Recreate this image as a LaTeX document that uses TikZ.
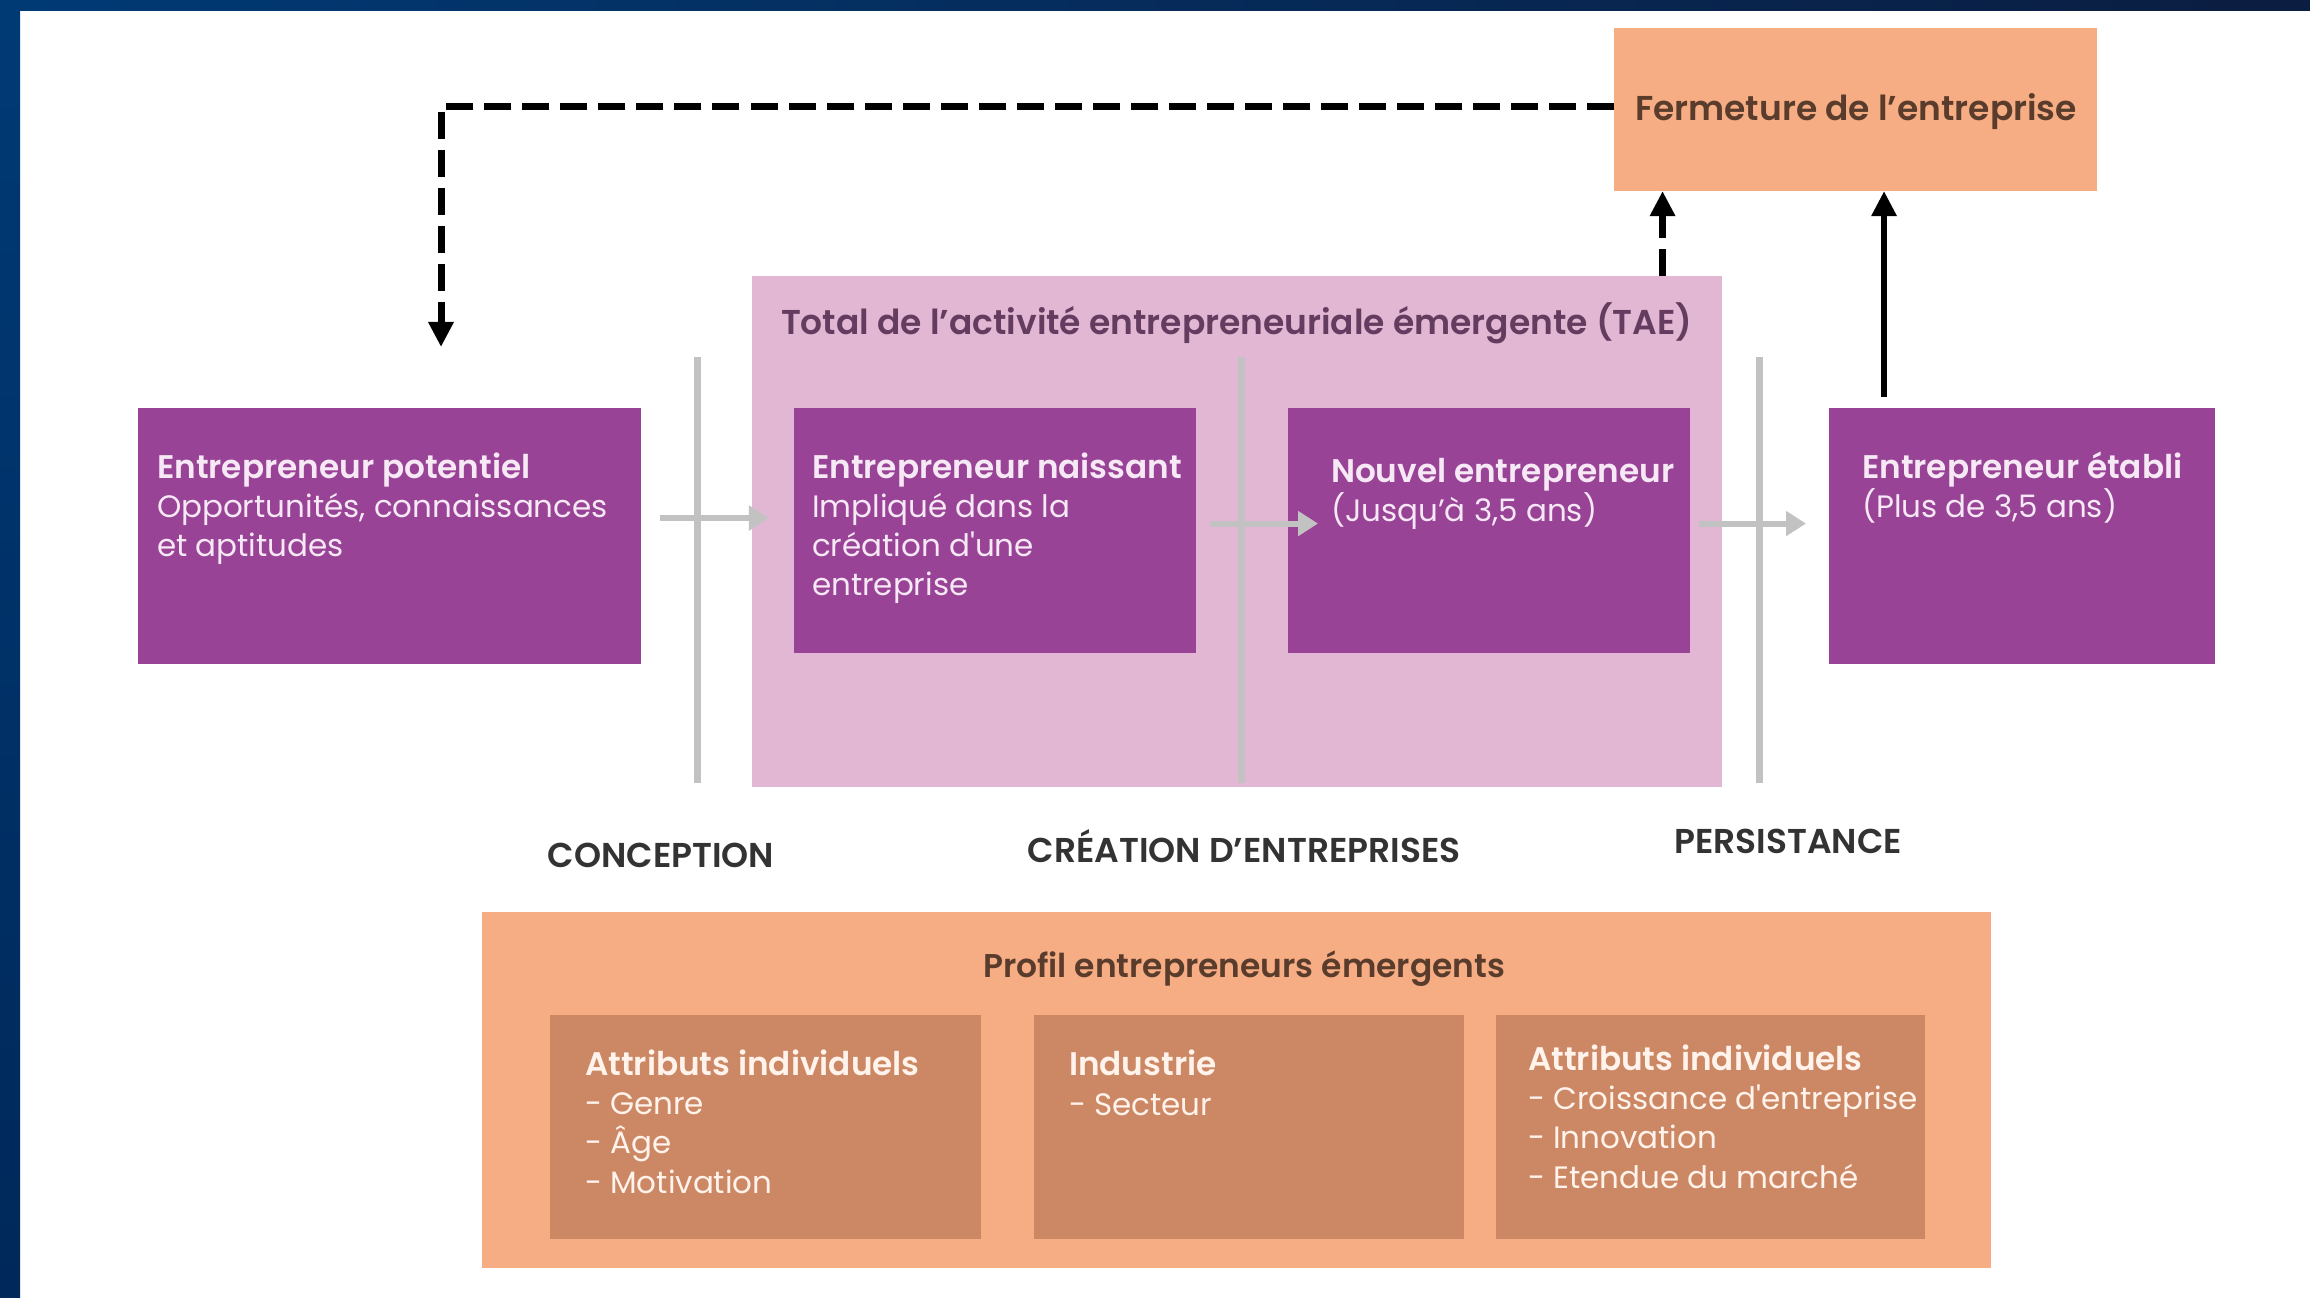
\documentclass[tikz,border=0pt]{standalone}
\usepackage{fontspec}
\setmainfont{Poppins}[BoldFont={Poppins SemiBold}]
\usetikzlibrary{arrows.meta,calc}
\definecolor{navyA}{HTML}{003A75}
\definecolor{navyB}{HTML}{00285A}
\definecolor{navyC}{HTML}{0B1D40}
\definecolor{purp}{HTML}{984396}
\definecolor{pinkbg}{HTML}{E2B7D4}
\definecolor{orng}{HTML}{F7AD83}
\definecolor{brwn}{HTML}{CC8864}
\definecolor{gline}{HTML}{C2C2C2}
\definecolor{ptext}{HTML}{F7E8F5}
\definecolor{otext}{HTML}{FFF3EC}
\definecolor{darkbrown}{HTML}{5A3C2D}
\definecolor{darkpurp}{HTML}{643C5F}
\definecolor{lab}{HTML}{333333}
\newcommand{\hd}[1]{{\fontsize{9.3}{11.1}\selectfont\bfseries #1}}
\begin{document}
\begin{tikzpicture}[x=0.01cm,y=-0.01cm,
  box/.style={anchor=north west, inner sep=0pt, outer sep=0pt, draw=none},
  pbox/.style={box, fill=purp},
  txt/.style={anchor=base west, inner sep=0pt, outer sep=0pt, align=left,
    font=\fontsize{8.8}{11.1}\selectfont},
  ttl/.style={inner sep=0pt, outer sep=0pt, font=\fontsize{9.8}{11.1}\selectfont\bfseries},
  lbl/.style={anchor=base, inner sep=0pt, outer sep=0pt, text=lab,
    font=\fontsize{9.8}{11}\selectfont\bfseries},
  vline/.style={draw=gline, line width=0.07cm},
  grayarrow/.style={draw=gline, line width=0.06cm, -{Triangle[length=0.2cm,width=0.24cm]}},
  dasharrow/.style={draw=black, line width=0.07cm, dash pattern=on 0.27cm off 0.11cm,
    -{Triangle[length=0.25cm,width=0.24cm]}},
  solidarrow/.style={draw=black, line width=0.06cm, -{Triangle[length=0.25cm,width=0.24cm]}}
]
\useasboundingbox (0,0) rectangle (2310,1298);
\fill[white] (0,0) rectangle (2310,1298);
\shade[left color=navyA, right color=navyC] (0,0) rectangle (2310,11);
\shade[top color=navyA, bottom color=navyB] (0,0) rectangle (20,1298);

% TAE background
\node[box, fill=pinkbg, minimum width=9.69cm, minimum height=5.11cm] (tae) at (752,276) {};
\node[ttl, anchor=base west, text=darkpurp] (taet) at (781,335)
  {Total de l’activité entrepreneuriale émergente (TAE)};

% vertical separators
\coordinate (v1t) at (697,357); \coordinate (v1b) at (697,783);
\coordinate (v2t) at (1241,357); \coordinate (v2b) at (1241,783);
\coordinate (v3t) at (1759,357); \coordinate (v3b) at (1759,783);
\draw[vline] (v1t) -- (v1b);
\draw[vline] (v2t) -- (v2b);
\draw[vline] (v3t) -- (v3b);

% purple boxes
\node[pbox, minimum width=5.03cm, minimum height=2.56cm] (pot) at (138,408) {};
\node[pbox, minimum width=4.02cm, minimum height=2.45cm] (nais) at (794,408) {};
\node[pbox, minimum width=4.02cm, minimum height=2.45cm] (nouv) at (1288,408) {};
\node[pbox, minimum width=3.86cm, minimum height=2.56cm] (etab) at (1829,408) {};

% text nodes: anchor is the baseline of the last line
\node[txt, text=ptext] (pott) at (157,557)
  {\hd{Entrepreneur potentiel}\\Opportunités, connaissances\\et aptitudes};
\node[txt, text=ptext] (naist) at (812,596)
  {\hd{Entrepreneur naissant}\\Impliqué dans la\\création d\textquotesingle une\\entreprise};
\node[txt, text=ptext] (nouvt) at (1331,522)
  {\hd{Nouvel entrepreneur}\\(Jusqu’à 3,5 ans)};
\node[txt, text=ptext] (etabt) at (1862,518)
  {\hd{Entrepreneur établi}\\(Plus de 3,5 ans)};

% Fermeture
\node[box, fill=orng, minimum width=4.83cm, minimum height=1.63cm] (ferm) at (1614,28) {};
\node[ttl, text=darkbrown, anchor=base] (fermt) at (1856,121) {Fermeture de l’entreprise};

% gray arrows
\draw[grayarrow] ([shift={(0.19cm,0.18cm)}]pot.east) -- ([shift={(-0.25cm,0.18cm)}]pot.east -| nais.west);
\draw[grayarrow] ([shift={(0.14cm,0.07cm)}]nais.east) -- ([shift={(0.30cm,0.07cm)}]nais.east -| nouv.west);
\draw[grayarrow] ([shift={(0.09cm,0.07cm)}]nouv.east) -- ([shift={(-0.23cm,0.07cm)}]nouv.east -| etab.west);

% black arrows
\coordinate (fb) at (441,347);
\draw[dasharrow] ([yshift=0.035cm]ferm.west) -| (fb);
\draw[dasharrow] ([xshift=-0.59cm]tae.north east) -- ([xshift=-0.59cm]tae.north east |- ferm.south);
\draw[solidarrow] ([shift={(0.55cm,0.11cm)}]etab.north west) -- ([xshift=0.55cm]etab.north west |- ferm.south);

% phase labels
\node[lbl] (lconc) at (661,867) {CONCEPTION};
\node[lbl] (lcrea) at (1244,862) {CRÉATION D’ENTREPRISES};
\node[lbl] (lpers) at (1788,853) {PERSISTANCE};

% profil
\node[box, fill=orng, minimum width=15.08cm, minimum height=3.56cm] (prof) at (482,912) {};
\node[ttl, text=darkbrown, anchor=base, font=\fontsize{9.35}{11.1}\selectfont\bfseries] (proft) at (1244,977) {Profil entrepreneurs émergents};
\node[box, fill=brwn, minimum width=4.31cm, minimum height=2.24cm] (s1) at (550,1015) {};
\node[box, fill=brwn, minimum width=4.30cm, minimum height=2.24cm] (s2) at (1034,1015) {};
\node[box, fill=brwn, minimum width=4.29cm, minimum height=2.24cm] (s3) at (1496,1015) {};
\node[txt, text=otext] (s1t) at (585,1193)
  {\hd{Attributs individuels}\\- Genre\\- Âge\\- Motivation};
\node[txt, text=otext] (s2t) at (1069,1115)
  {\hd{Industrie}\\- Secteur};
\node[txt, text=otext] (s3t) at (1528,1188)
  {\hd{Attributs individuels}\\- Croissance d\textquotesingle entreprise\\- Innovation\\- Etendue du marché};
\end{tikzpicture}
\end{document}
